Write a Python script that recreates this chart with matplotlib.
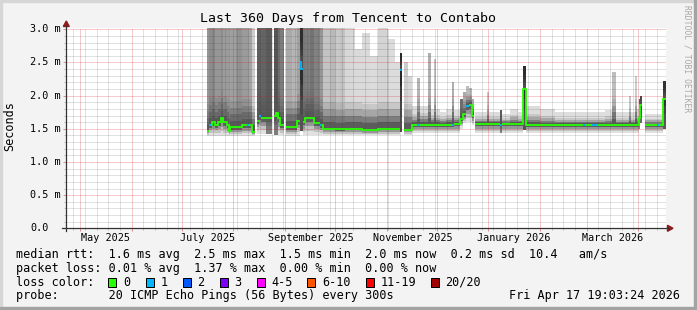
import datetime as dt
import numpy as np
import matplotlib
matplotlib.use("Agg")
import matplotlib.pyplot as plt
import matplotlib.dates as mdates
from matplotlib.patches import Rectangle, Polygon
from matplotlib.lines import Line2D
from matplotlib.transforms import blended_transform_factory

W, H = 697, 310
MONO = "DejaVu Sans Mono"
nan = np.nan

# ---------------- data ----------------
day0 = dt.datetime(2025, 7, 1)              # day offsets below count from here
now = dt.datetime(2026, 4, 17, 19, 3, 24)
span_days = 360

# median rtt (ms) as a step series, nan = no data
med_day = [15.2, 16.4, 18.2, 20.0, 21.8, 23.6, 24.8, 27.2, 28.4, 29.0,
           36.2, 42.2, 44.0, 45.2, 46.4, 47.6, 54.2, 55.4, 56.6, 57.8,
           59.0, 61.4, 62.6, 69.2, 71.0, 71.9, 72.8, 74.0, 79.4, 83.0,
           84.8, 92.0, 98.0, 108.2, 118.0, 131.0, 132.5, 133.4, 138.2, 143.0,
           163.4, 167.0, 168.8, 170.6, 172.4, 174.2, 175.4, 176.3, 191.0, 192.2,
           204.8, 206.6, 274.4, 275.3, 276.5, 278.0, 289.1]
med_ms = [1.47, 1.56, 1.60, 1.56, 1.60, 1.67, 1.60, 1.55, 1.47, 1.52,
          1.55, 1.45, nan, 1.62, 1.70, 1.66, nan, 1.70, 1.74, 1.66,
          1.55, nan, 1.52, 1.62, 2.50, 2.40, 1.60, 1.67, 1.58, 1.55,
          1.50, 1.49, 1.50, 1.48, 1.50, 2.38, nan, 1.48, 1.55, 1.56,
          1.57, 1.65, 1.72, 1.84, 1.86, 1.70, nan, 1.57, 1.55, 1.57,
          2.10, 1.55, 1.66, 1.86, nan, 1.55, 1.95]

# top of the smoke (ms) and its grey level (0 black .. 255 white)
top_day = [15.2, 16.4, 18.2, 20.0, 23.6, 24.8, 28.4, 29.0, 32.6, 36.2,
           40.4, 42.2, 45.2, 47.6, 50.6, 55.4, 57.8, 59.0, 62.6, 66.2,
           69.2, 71.0, 72.8, 74.0, 77.0, 79.4, 83.0, 84.8, 89.0, 92.0,
           95.0, 98.0, 104.0, 108.2, 113.0, 117.8, 123.8, 128.0, 131.0, 133.4,
           135.8, 138.2, 141.2, 143.0, 147.8, 149.6, 151.4, 152.6, 155.0, 158.6,
           162.2, 163.4, 167.0, 168.8, 170.6, 172.4, 174.2, 176.3, 183.2, 184.4,
           191.0, 192.2, 197.0, 201.8, 204.8, 206.6, 215.0, 224.0, 254.0, 258.2,
           260.6, 268.4, 269.6, 272.0, 273.2, 274.4, 275.3, 278.0, 289.1]
top_ms = [3.05, 3.05, 3.05, 3.05, 3.05, 3.05, 3.05, 3.05, 3.05, 3.05,
          3.05, 3.05, 3.05, 3.05, 3.05, 3.05, 3.05, 3.05, 3.05, 3.05,
          3.05, 3.05, 3.05, 3.05, 3.05, 3.05, 3.05, 3.05, 3.05, 3.05,
          3.05, 3.05, 2.70, 2.95, 2.60, 3.05, 2.85, 2.50, 2.65, 2.50,
          2.30, 1.85, 2.27, 1.85, 2.65, 1.80, 2.55, 1.80, 1.75, 1.80,
          2.20, 1.78, 1.95, 2.05, 2.15, 2.12, 1.95, 1.75, 2.05, 1.75,
          1.78, 1.72, 1.80, 1.75, 2.45, 1.85, 1.80, 1.75, 1.78, 2.35,
          1.75, 2.00, 1.75, 2.30, 1.80, 1.95, 2.00, 1.72, 2.22]
top_gray = [150, 140, 135, 150, 140, 155, 150, 160, 145, 155,
            165, 205, 95, 100, 90, 85, 110, 125, 170, 180,
            160, 45, 120, 125, 115, 130, 150, 195, 185, 200,
            195, 215, 218, 218, 220, 212, 220, 220, 40, 205,
            215, 220, 180, 220, 175, 220, 195, 220, 222, 222,
            175, 220, 110, 170, 190, 185, 170, 220, 200, 220,
            90, 222, 222, 222, 45, 220, 220, 222, 222, 190,
            222, 200, 222, 205, 215, 90, 70, 222, 50]

# bottom of the smoke (ms)
low_day = [15.2, 45.2, 55.4, 62.6, 71.0, 72.8, 131.0, 133.4, 138.2, 167.0,
           168.8, 170.6, 172.4, 174.2, 176.3, 204.8, 206.6, 274.4, 275.3, 278.0,
           289.1]
low_ms = [1.39, 1.42, 1.40, 1.39, 1.47, 1.40, 1.45, 1.41, 1.43, 1.50,
          1.58, 1.60, 1.60, 1.55, 1.43, 1.48, 1.43, 1.50, 1.58, 1.43,
          1.50]

# lost pings (out of 20) on the median line
loss_day = [15.2, 16.4, 17.6, 39.2, 40.4, 46.4, 47.6, 71.0, 72.8, 83.0,
            84.2, 131.0, 132.5, 141.2, 143.0, 162.2, 163.4, 170.6, 172.4, 191.0,
            192.2, 240.8, 242.6, 246.2, 249.8, 285.2, 286.4]
loss_n = [0, 1, 0, 1, 0, 1, 0, 1, 0, 1,
          0, 1, 0, 1, 0, 1, 0, 1, 0, 1,
          0, 1, 0, 1, 0, 1, 0]

# y tick labels and month labels
y_ticks = [0.0, 0.5, 1.0, 1.5, 2.0, 2.5, 3.0]
y_labels = ["0.0", "0.5 m", "1.0 m", "1.5 m", "2.0 m", "2.5 m", "3.0 m"]
month_label_dates = ["2025-05-01", "2025-07-01", "2025-09-01",
                     "2025-11-01", "2026-01-01", "2026-03-01"]
month_labels = ["May 2025", "July 2025", "September 2025",
                "November 2025", "January 2026", "March 2026"]

loss_names = ["0", "1", "2", "3", "4-5", "6-10", "11-19", "20/20"]
loss_colors = ["#26ff00", "#00b8ff", "#0059ff", "#7e00ff",
               "#ff00ff", "#ff5500", "#ff0000", "#a10000"]

stats_line = "median rtt:  1.6 ms avg  2.5 ms max  1.5 ms min  2.0 ms now  0.2 ms sd  10.4   am/s"
loss_line = "packet loss: 0.01 % avg  1.37 % max  0.00 % min  0.00 % now"
probe_line = "probe:       20 ICMP Echo Pings (56 Bytes) every 300s"
stamp = "Fri Apr 17 19:03:24 2026"
title = "Last 360 Days from Tencent to Contabo"


# ---------------- helpers ----------------
def fx(px):
    return px / W


def fy(py):
    return 1 - py / H


def step_val(days, vals, t):
    i = np.searchsorted(np.asarray(days), t + 1e-9, side="right") - 1
    return vals[i]


def gray(level):
    g = min(max(level, 0), 255) / 255.0
    return (g, g, g)


# ---------------- figure ----------------
fig = plt.figure(figsize=(W / 100, H / 100), dpi=100)
fig.patch.set_facecolor("#f3f3f3")

y0_px, y3_px = 228.3, 29.3
px_per_ms = (y0_px - y3_px) / 3.0
ytop = 3.02
ax_top_px = y0_px - ytop * px_per_ms
ax = fig.add_axes([fx(66.3), fy(y0_px), fx(600), (y0_px - ax_top_px) / H])
ax.set_facecolor("white")
for s in ax.spines.values():
    s.set_visible(False)

base = mdates.date2num(day0)
t_end = mdates.date2num(now)
ax.set_xlim(t_end - span_days, t_end)
ax.set_ylim(0, ytop)

# build columns from all breakpoints
end_day = t_end - base
edges = sorted(set(med_day + top_day + low_day + loss_day)) + [end_day]
cols = []
for t0, t1 in zip(edges[:-1], edges[1:]):
    m = step_val(med_day, med_ms, t0)
    if np.isnan(m):
        continue
    cols.append((t0, t1, m,
                 step_val(low_day, low_ms, t0),
                 step_val(top_day, top_ms, t0),
                 step_val(top_day, top_gray, t0),
                 step_val(loss_day, loss_n, t0)))

# smoke: darker close to the median, fading outwards
bx, bw, bb, bh, bc = [], [], [], [], []
for t0, t1, m, lo, hi, g, _ in cols:
    layers = []
    lower = np.linspace(lo, m, 5)
    for k, gl in enumerate([225, 195, 150, 95]):
        if g < 95:  # dark columns stay dark down to the usual level
            gl = g + (gl - 95) * 0.3
        layers.append((lower[k], lower[k + 1], gl))
    c = min(0.4, 0.6 * (hi - m))
    upper = np.linspace(m, m + c, 5)
    for k, f in enumerate([0.05, 0.3, 0.6, 0.85]):
        layers.append((upper[k], upper[k + 1], 85 + (g - 85) * f))
    layers.append((m + c, hi, g))
    for y1, y2, gl in layers:
        bx.append(base + t0)
        bw.append(t1 - t0)
        bb.append(y1)
        bh.append(y2 - y1)
        bc.append(gray(gl))
ax.bar(bx, bh, width=bw, bottom=bb, align="edge", color=bc,
       linewidth=0, antialiased=False, zorder=1)

# median line, one line per loss class (a class breaks where another applies)
for n_cls, col in enumerate(loss_colors[:2]):
    xs, ys = [], []
    prev = None
    for t0, t1, m, lo, hi, g, n in cols:
        if n != n_cls:
            continue
        if prev is not None and abs(prev - t0) > 1e-6:
            xs.append(nan)
            ys.append(nan)
        xs += [base + t0, base + t1]
        ys += [m, m]
        prev = t1
    ax.plot(xs, ys, color=col, lw=1.3, solid_capstyle="butt",
            solid_joinstyle="miter", zorder=4 + n_cls)

# grid (dotted, drawn over the smoke)
ax.xaxis_date()
ax.xaxis.set_major_locator(mdates.MonthLocator())
ax.xaxis.set_minor_locator(mdates.WeekdayLocator(byweekday=mdates.SU))
ax.yaxis.set_major_locator(plt.MultipleLocator(0.5))
ax.yaxis.set_minor_locator(plt.MultipleLocator(0.1))
ax.set_axisbelow(False)
ax.grid(which="minor", color="#404040", alpha=0.3, linestyle=(0, (1, 1)), lw=0.72)
ax.grid(which="major", color="#d01818", alpha=0.45, linestyle=(0, (1, 1)), lw=0.72)
ax.tick_params(which="both", labelbottom=False, labelleft=False, direction="out")
ax.tick_params(which="major", length=2.2, width=0.72, color="#e09090")
ax.tick_params(which="minor", length=1.5, width=0.72, color="#c0c0c0")

# axes lines and arrows
axis_col = "#333333"
arrow_col = "#8b1c1c"
fig.add_artist(Line2D([fx(62), fx(668)], [fy(y0_px), fy(y0_px)], color=axis_col, lw=0.9))
fig.add_artist(Line2D([fx(66.3), fx(66.3)], [fy(231), fy(26)], color=axis_col, lw=0.9))
fig.add_artist(Polygon([(fx(63.3), fy(26.5)), (fx(69.3), fy(26.5)), (fx(66.3), fy(21))],
                       closed=True, color=arrow_col, transform=fig.transFigure))
fig.add_artist(Polygon([(fx(667.5), fy(y0_px - 3)), (fx(667.5), fy(y0_px + 3)),
                        (fx(673), fy(y0_px))],
                       closed=True, color=arrow_col, transform=fig.transFigure))

# tick labels
ytr = blended_transform_factory(fig.transFigure, ax.transData)
for v, lab in zip(y_ticks, y_labels):
    fig.text(fx(30), v, lab, transform=ytr, ha="left", va="center",
             fontsize=7.3, family=MONO)
xtr = blended_transform_factory(ax.transData, fig.transFigure)
for d, lab in zip(month_label_dates, month_labels):
    xpos = mdates.date2num(dt.datetime.fromisoformat(d)) + 15.5
    fig.text(xpos, fy(237.7), lab, transform=xtr, ha="center", va="center",
             fontsize=7.3, family=MONO)

fig.text(fx(10), fy(126), "Seconds", rotation=90, ha="center", va="center",
         fontsize=8.5, family=MONO)
fig.text(0.5, fy(18.5), title, ha="center", va="center", fontsize=9.5, family=MONO)
fig.text(fx(687.5), fy(59), "RRDTOOL / TOBI OETIKER", rotation=270,
         ha="center", va="center", fontsize=5.8, family=MONO, color="#a8a8a8")

# legend block
fig.text(fx(16), fy(254.3), stats_line, ha="left", va="center", fontsize=8.5, family=MONO)
fig.text(fx(16), fy(268.3), loss_line, ha="left", va="center", fontsize=8.5, family=MONO)
fig.text(fx(16), fy(282.3), "loss color:", ha="left", va="center", fontsize=8.5, family=MONO)
sw_left = [108.3, 145.7, 182.7, 220.0, 256.7, 307.3, 365.7, 431.0]
for xl, name, col in zip(sw_left, loss_names, loss_colors):
    fig.add_artist(Rectangle((fx(xl), fy(287)), fx(8), 9 / H, facecolor=col,
                             edgecolor="black", lw=0.72, transform=fig.transFigure))
    fig.text(fx(xl + 14.5), fy(282.3), name, ha="left", va="center",
             fontsize=8.5, family=MONO)
fig.text(fx(16), fy(296), probe_line, ha="left", va="center", fontsize=8.5, family=MONO)
fig.text(fx(680), fy(296), stamp, ha="right", va="center", fontsize=8.5, family=MONO)

# frame
fig.add_artist(Rectangle((0, fy(2)), 1, 2 / H, color="#d6d6d6", transform=fig.transFigure))
fig.add_artist(Rectangle((0, 0), fx(2), 1, color="#d6d6d6", transform=fig.transFigure))
fig.add_artist(Rectangle((0, 0), 1, 3 / H, color="#a3a3a3", transform=fig.transFigure))
fig.add_artist(Rectangle((fx(W - 3), 0), fx(3), 1, color="#a3a3a3", transform=fig.transFigure))

fig.savefig("out.png", dpi=100, facecolor=fig.get_facecolor())
